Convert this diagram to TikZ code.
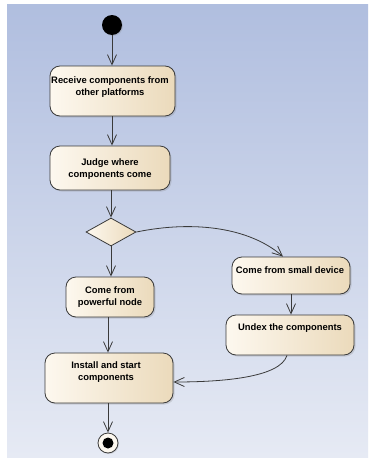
\documentclass[tikz,border=0pt]{standalone}
\usepackage{fontspec}
\setmainfont{Liberation Sans}
\usetikzlibrary{arrows.meta,shapes.geometric,shadows}

\definecolor{panelTop}{HTML}{B0BEDF}
\definecolor{panelBot}{HTML}{E6EAF4}
\definecolor{creamA}{HTML}{FDF8EF}
\definecolor{creamB}{HTML}{EBDABB}
\definecolor{edge}{HTML}{3A3A3A}

\tikzset{
  act/.style={draw=edge, line width=0.8pt, rounded corners=10pt,
    left color=creamA, right color=creamB,
    drop shadow={shadow xshift=1.5pt, shadow yshift=-1.5pt, opacity=0.25},
    inner sep=0pt},
  lbl/.style={font=\bfseries\fontsize{9.4}{12}\selectfont, align=center, inner sep=0pt},
  flow/.style={draw=edge, line width=0.8pt,
    -{Straight Barb[length=10pt,width=9pt,line width=0.8pt]}},
  decide/.style={diamond, draw=edge, line width=0.8pt, inner sep=0pt,
    left color=creamA, right color=creamB,
    minimum width=50pt, minimum height=28pt},
}

\begin{document}
\begin{tikzpicture}[x=1pt,y=-1pt]
  % canvas and gradient panel
  \useasboundingbox (0,0) rectangle (369,458);
  \fill[white] (0,0) rectangle (369,458);
  \shade[top color=panelTop, bottom color=panelBot] (7,4) rectangle (368,457);

  % initial node
  \node[circle, fill=black, minimum size=20pt, inner sep=0pt,
        drop shadow={shadow xshift=1pt, shadow yshift=-1pt, opacity=0.25}] (start) at (112,25) {};

  % actions
  \node[act, minimum width=125pt, minimum height=50pt] (b1) at (112.5,91) {};
  \node[lbl] (t1) at (110,87) {Receive components from\\other platforms};

  \node[act, minimum width=120pt, minimum height=44pt] (b2) at (110,168) {};
  \node[lbl] (t2) at (110,169) {Judge where\\components come};

  \node[decide] (d) at (111,232) {};

  \node[act, minimum width=88pt, minimum height=40pt] (b3) at (110,297) {};
  \node[lbl] (t3) at (110,297) {Come from\\powerful node};

  \node[act, minimum width=118pt, minimum height=37pt] (b4) at (291,275.5) {};
  \node[lbl] (t4) at (290,270) {Come from small device};

  \node[act, minimum width=128pt, minimum height=40pt] (b5) at (290,335) {};
  \node[lbl] (t5) at (290,328) {Undex the components};

  \node[act, minimum width=128pt, minimum height=50pt] (b6) at (109,378) {};
  \node[lbl] (t6) at (106,372) {Install and start\\components};

  % final node
  \node[circle, draw=edge, line width=0.8pt, fill=creamA, minimum size=20pt, inner sep=0pt,
        drop shadow={shadow xshift=1pt, shadow yshift=-1pt, opacity=0.25}] (stop) at (108,443) {};
  \node[circle, fill=black, minimum size=11pt, inner sep=0pt] (stopdot) at (stop) {};

  % control flows
  \draw[flow] (start) -- (start |- b1.north);
  \draw[flow] (b1.south -| start) -- (b2.north -| start);
  \draw[flow] (b2.south -| d) -- (d.north);
  \draw[flow] (d.south) -- (d.south |- b3.north);
  \draw[flow] (d.east) .. controls (195,220) and (250,228) .. (b4.north -| 283,0);
  \draw[flow] (b4.south) -- (b5.north -| b4.south);
  \draw[flow] (b3.south -| stop) -- (b6.north -| stop);
  \draw[flow] (b5.south -| 287,0) .. controls (280,378) and (220,382) .. (b6.east |- 0,382);
  \draw[flow] (b6.south -| stop) -- (stop.north);
\end{tikzpicture}
\end{document}
